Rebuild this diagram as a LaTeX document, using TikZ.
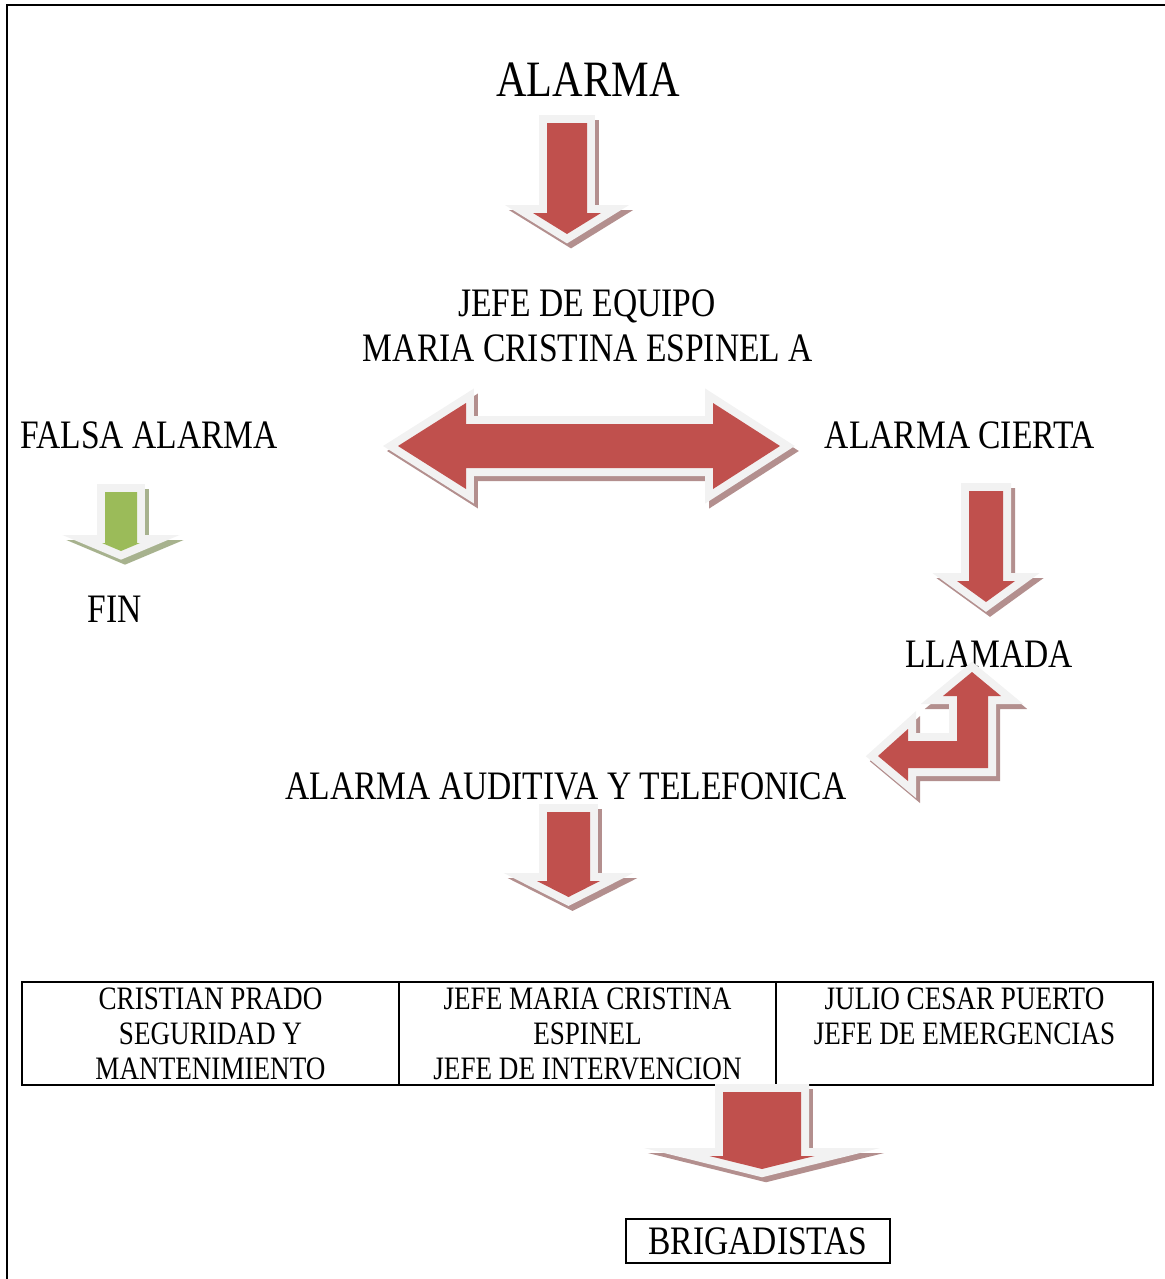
\documentclass[tikz,border=0pt]{standalone}
\usepackage{fontspec}
\setmainfont[FakeStretch=0.83]{Liberation Serif}

\definecolor{arrowred}{HTML}{C0504D}
\definecolor{arrowgreen}{HTML}{9BBB59}
\definecolor{rim}{HTML}{F2F2F2}
\definecolor{redshadow}{HTML}{B38F8E}
\definecolor{greenshadow}{HTML}{A7B28E}

\tikzset{
  arrowshadow/.style={fill=#1, draw=#1, line width=9.1pt, line join=miter, shift={(0.08cm,-0.1cm)}},
  arrowrim/.style={fill=rim, draw=rim, line width=9.1pt, line join=miter},
  txt/.style={anchor=base, inner sep=0pt, font=\fontsize{23}{26}\selectfont},
  cell/.style={draw, line width=1pt, minimum width=7.54cm, minimum height=2.06cm,
    align=center, inner sep=0pt, font=\fontsize{18.6}{19.9}\selectfont},
}

% block arrow: path, fill colour, shadow colour
\newcommand{\blockarrow}[3]{%
  \path[arrowshadow=#3] #1 -- cycle;
  \path[arrowrim] #1 -- cycle;
  \fill[#2] #1 -- cycle;
}
% down arrow: centre x, shaft half width, top, head half width, head y, tip y, fill, shadow
\newcommand{\downblock}[8]{%
  \blockarrow{({#1-#2},#3) -- ({#1+#2},#3) -- ({#1+#2},#5) -- ({#1+#4},#5) -- (#1,#6) -- ({#1-#4},#5) -- ({#1-#2},#5)}{#7}{#8}
}

\begin{document}
\begin{tikzpicture}[x=0.02cm, y=-0.02cm]
\useasboundingbox (0,0) rectangle (1164,1279);
\draw[line width=1.5pt] (7,1300) -- (7,5) -- (1200,5);

% texts
\node[txt, font=\fontsize{29}{32}\selectfont] (alarma) at (588,96) {ALARMA};
\node[txt] (jefe) at (587,316) {JEFE DE EQUIPO};
\node[txt] (maria) at (588,361) {MARIA CRISTINA ESPINEL A};
\node[txt] (falsa) at (149,448) {FALSA ALARMA};
\node[txt] (cierta) at (960,448) {ALARMA CIERTA};
\node[txt] (fin) at (115,622) {FIN};
\node[txt] (llamada) at (989,667) {LLAMADA};
\node[txt] (auditiva) at (566,799) {ALARMA AUDITIVA Y TELEFONICA};

% table
\node[cell] (cristian) at (210.5,1033.5) {CRISTIAN PRADO\\SEGURIDAD Y\\MANTENIMIENTO};
\node[cell] (jefemaria) at (587.5,1033.5) {JEFE MARIA CRISTINA\\ESPINEL\\JEFE DE INTERVENCION};
\node[cell] (julio) at (964.5,1033.5) {JULIO CESAR PUERTO\\JEFE DE EMERGENCIAS\\~};
\node[draw, line width=1pt, minimum width=5.28cm, minimum height=0.88cm, inner sep=0pt,
  font=\fontsize{23}{26}\selectfont] (brigadistas) at (758,1241) {BRIGADISTAS};

% arrows
\downblock{567}{20}{123}{34}{213}{234}{arrowred}{redshadow}
\blockarrow{(398,446) -- (466,403) -- (466,424) -- (713,424) -- (713,403) -- (780,446) -- (713,489) -- (713,468) -- (466,468) -- (466,489)}{arrowred}{redshadow}
\downblock{121}{16}{492}{19}{543}{551}{arrowgreen}{greenshadow}
\downblock{986}{17}{491}{29}{581}{602}{arrowred}{redshadow}
\blockarrow{(972,672) -- (1001,696) -- (988,696) -- (988,768) -- (908,768) -- (908,781) -- (878,756) -- (908,729) -- (908,741) -- (957,741) -- (957,696) -- (943,696)}{arrowred}{redshadow}
\downblock{568.5}{21.5}{812}{31.5}{881}{897}{arrowred}{redshadow}
\downblock{762}{39}{1092}{52.5}{1156}{1169}{arrowred}{redshadow}
\end{tikzpicture}
\end{document}
